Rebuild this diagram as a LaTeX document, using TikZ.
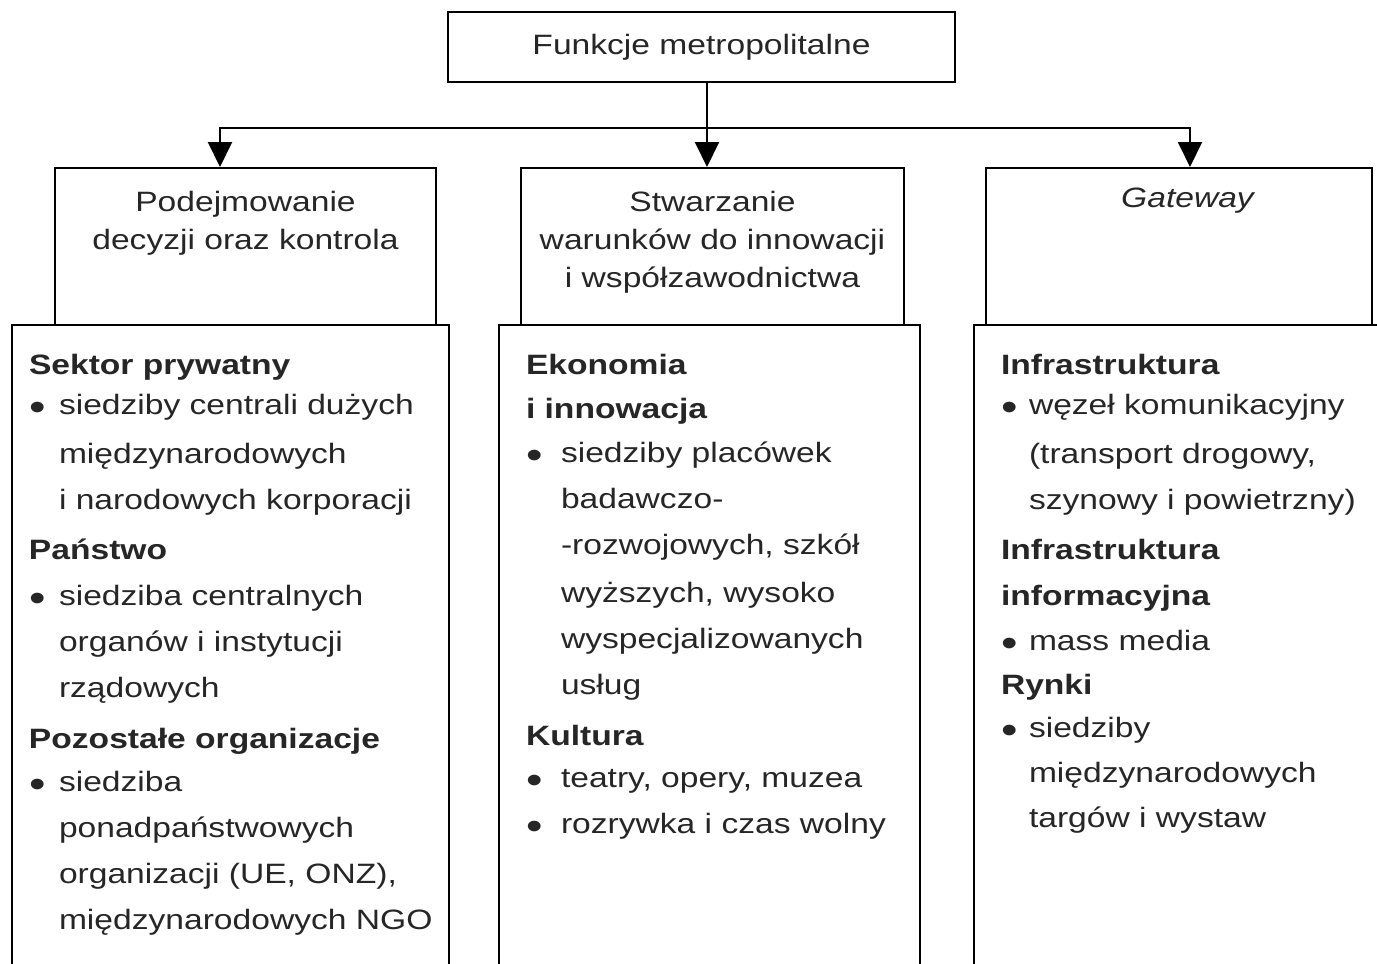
\documentclass[tikz,border=0pt]{standalone}
\usepackage{fontspec}
\usepackage{graphicx}
\setmainfont{Liberation Sans}[FakeStretch=1.2]
\usetikzlibrary{arrows.meta,positioning}
\newlength{\wciecie}
\newcommand{\pkt}{\makebox[\wciecie][l]{\raisebox{-6pt}{\scalebox{1.4}{\textbullet}}}}
\newcommand{\wc}{\hspace*{\wciecie}}
\begin{document}
\begin{tikzpicture}[x=1pt,y=-1pt,line width=2pt,text=black!85,
  font=\fontsize{28}{38}\selectfont,
  ramka/.style={draw,inner sep=0pt,minimum height=157pt},
  tytul/.style={anchor=north,align=center,inner sep=0pt},
  lista/.style={anchor=north west,align=left,inner sep=0pt,
    font=\fontsize{28}{46}\selectfont,
    execute at begin node={\global\wciecie=#1\relax}},
  strzalka/.style={-{Triangle[length=25pt,width=24pt]}}]
\useasboundingbox[fill=white] (0,0) rectangle (1377,964);

\node[draw,inner sep=0pt,minimum width=507pt,minimum height=70pt] (funkcje) at (701.5,47) {Funkcje metropolitalne};

\node[ramka,minimum width=381pt] (decyzje) at (245.5,246.5) {};
\node[ramka,minimum width=383pt] (innowacje) at (712.5,246.5) {};
\node[ramka,minimum width=386pt] (gateway) at (1179,246.5) {};

\node[tytul,below=23.6pt of decyzje.north] (decyzjeT) {Podejmowanie\\decyzji oraz kontrola};
\node[tytul,below=23.6pt of innowacje.north] (innowacjeT) {Stwarzanie\\warunków do innowacji\\i współzawodnictwa};
\node[tytul,below=19.6pt of gateway.north,xshift=8.5pt] (gatewayT) {\itshape Gateway};

\coordinate (wezel) at (707,128);
\coordinate (lewa) at (220,128);
\coordinate (prawa) at (1190,128);
\draw[strzalka] (funkcje.south -| wezel) -- (wezel |- innowacje.north);
\draw[strzalka] (wezel) -| (lewa |- decyzje.north);
\draw[strzalka] (wezel) -| (prawa |- gateway.north);

\draw (12,964) -- (12,325) -- (449,325) -- (449,964);
\draw (499,964) -- (499,325) -- (920,325) -- (920,964);
\draw (974,964) -- (974,325) -- (1380,325);

\node[lista=30pt] (decyzjeL) at (28,353) {\textbf{Sektor prywatny}\\[-6pt]
\pkt siedziby centrali dużych\\[3pt]
\wc międzynarodowych\\
\wc i narodowych korporacji\\[4pt]
\textbf{Państwo}\\
\pkt siedziba centralnych\\
\wc organów i instytucji\\
\wc rządowych\\[5pt]
\textbf{Pozostałe organizacje}\\[-3pt]
\pkt siedziba\\
\wc ponadpaństwowych\\
\wc organizacji (UE, ONZ),\\
\wc międzynarodowych NGO};

\node[lista=35pt] (innowacjeL) at (525,353) {\textbf{Ekonomia}\\[-2pt]
\textbf{i innowacja}\\[-2pt]
\pkt siedziby placówek\\
\wc badawczo-\\
\wc -rozwojowych, szkół\\[2pt]
\wc wyższych, wysoko\\
\wc wyspecjalizowanych\\
\wc usług\\[5pt]
\textbf{Kultura}\\[-4pt]
\pkt teatry, opery, muzea\\
\pkt rozrywka i czas wolny};

\node[lista=28pt] (gatewayL) at (1000,353) {\textbf{Infrastruktura}\\[-6pt]
\pkt węzeł komunikacyjny\\[3pt]
\wc (transport drogowy,\\
\wc szynowy i powietrzny)\\[4pt]
\textbf{Infrastruktura}\\
\textbf{informacyjna}\\[-1pt]
\pkt mass media\\[-2pt]
\textbf{Rynki}\\[-3pt]
\pkt siedziby\\[-1pt]
\wc międzynarodowych\\[-1pt]
\wc targów i wystaw};
\end{tikzpicture}
\end{document}
